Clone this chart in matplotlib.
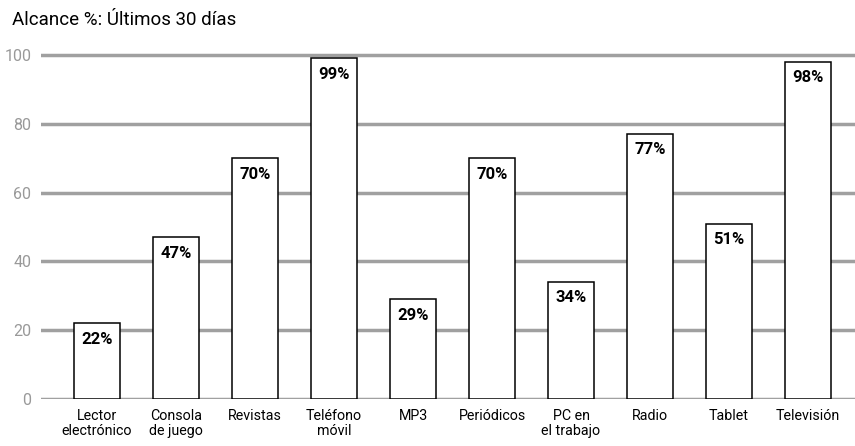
import numpy as np
import matplotlib.pyplot as plt

plt.rcParams['font.family'] = ['Roboto', 'DejaVu Sans']

categorias = ["Lector\nelectrónico", "Consola\nde juego", "Revistas", "Teléfono\nmóvil", "MP3",
              "Periódicos", "PC en\nel trabajo", "Radio", "Tablet", "Televisión"]
alcance = [22, 47, 70, 99, 29, 70, 34, 77, 51, 98]
yticks = [0, 20, 40, 60, 80, 100]

W, H = 855, 446
fig = plt.figure(figsize=(W / 100, H / 100), dpi=100)
ppu = (399 - 55) / 100
top_px = 55 - 2 * ppu
ax = fig.add_axes([41 / W, (H - 399) / H, 1 - 41 / W, (399 - top_px) / H])

x = np.arange(len(categorias))
ax.bar(x, alcance, width=46 / 79, color="white", edgecolor="black", linewidth=1.1, zorder=3)
for xi, v in zip(x, alcance):
    ax.annotate(f"{v}%", (xi, v), xytext=(0, -6), textcoords="offset points",
                ha="center", va="top", fontsize=12, fontweight="bold", zorder=4)

ax.set_xlim(-56 / 79, (855 - 97) / 79)
ax.set_ylim(0, 102)
ax.set_yticks(yticks)
ax.set_xticks(x)
ax.set_xticklabels(categorias, fontsize=10.3, linespacing=1.1)
ax.yaxis.grid(True, color="#a0a0a0", linewidth=2.5, zorder=0)
ax.tick_params(axis="y", length=0, pad=7, labelsize=11.5, labelcolor="#999999")
ax.tick_params(axis="x", length=0, pad=7)
for s in ax.spines.values():
    s.set_visible(False)

fig.text(12 / W, 1 - 20 / H, "Alcance %: Últimos 30 días", fontsize=13.5, va="center", ha="left")

fig.savefig("out.png", dpi=100)
